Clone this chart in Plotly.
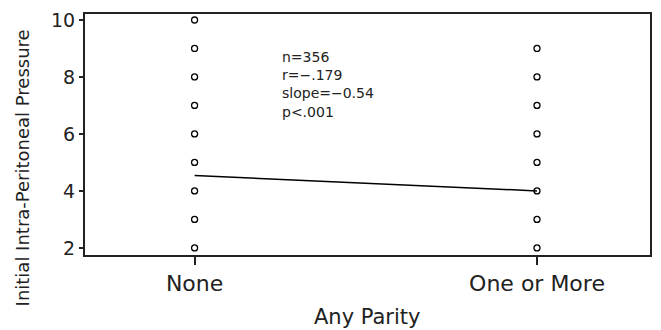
import plotly.graph_objects as go

categories = ["None", "One or More"]
none_values = [2, 3, 4, 5, 6, 7, 8, 9, 10]
more_values = [2, 3, 4, 5, 6, 7, 8, 9]
fit_values = [4.54, 4.00]
stats_text = ["n=356", "r=\u2212.179", "slope=\u22120.54", "p<.001"]
y_ticks = [2, 4, 6, 8, 10]

FONT = "DejaVu Sans"

fig = go.Figure()
marker = dict(symbol="circle-open", size=6, color="black", line=dict(width=1.3, color="black"))
fig.add_trace(go.Scatter(x=[categories[0]] * len(none_values), y=none_values,
                         mode="markers", marker=marker, showlegend=False))
fig.add_trace(go.Scatter(x=[categories[1]] * len(more_values), y=more_values,
                         mode="markers", marker=marker, showlegend=False))
fig.add_trace(go.Scatter(x=categories, y=fit_values, mode="lines",
                         line=dict(color="black", width=1.5), showlegend=False))

fig.add_annotation(x=0.253, y=9.02, xref="x", yref="y", text="<br>".join(stats_text),
                   showarrow=False, xanchor="left", yanchor="top", align="left",
                   borderpad=0,
                   font=dict(family=FONT, size=14, color="#222"))

fig.add_annotation(x=-0.109, y=0.361, xref="paper", yref="paper",
                   text="Initial Intra-Peritoneal Pressure", textangle=-90, showarrow=False,
                   xanchor="center", yanchor="middle",
                   font=dict(family=FONT, size=18, color="#222"))
fig.add_annotation(x=0.5, y=-0.257, xref="paper", yref="paper",
                   text="Any Parity", showarrow=False,
                   xanchor="center", yanchor="middle",
                   font=dict(family=FONT, size=21, color="#222"))

fig.update_layout(
    width=661, height=330,
    margin=dict(l=85, r=9, t=14, b=75),
    paper_bgcolor="white", plot_bgcolor="white",
    font=dict(family=FONT, color="#222"),
)
fig.update_xaxes(type="category", categoryorder="array", categoryarray=categories,
                 range=[-0.32, 1.33], showline=True, linecolor="#222", linewidth=2,
                 mirror=True, ticks="outside", ticklen=8, tickwidth=1.5, tickcolor="#222",
                 showgrid=False, zeroline=False, tickfont=dict(family=FONT, size=22, color="#222"))
fig.update_yaxes(range=[1.75, 10.21], tickvals=y_ticks, showline=True, linecolor="#222",
                 linewidth=2, mirror=True, ticks="outside", ticklen=4, tickwidth=1.5,
                 tickcolor="#222", showgrid=False, zeroline=False,
                 tickfont=dict(family=FONT, size=19, color="#222"))

fig.write_html("out.html")
